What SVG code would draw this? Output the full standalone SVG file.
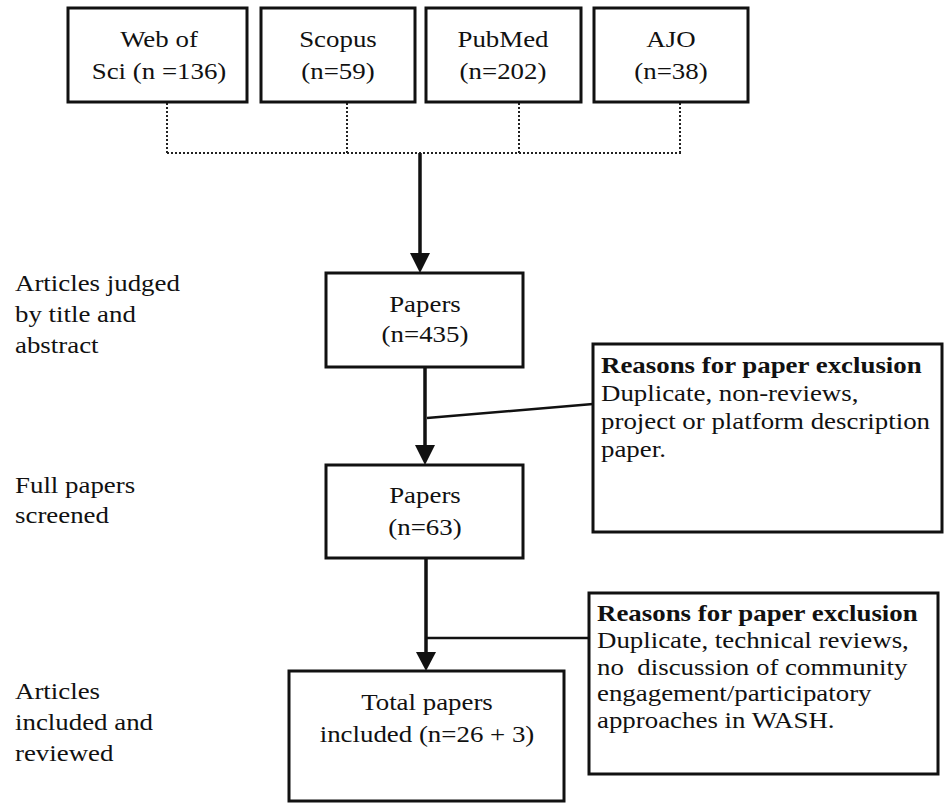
<svg xmlns="http://www.w3.org/2000/svg" width="944" height="809" viewBox="0 0 944 809">
<style>
.box{fill:#fff;stroke:#111;stroke-width:3}
.t{font-family:"Liberation Serif","Times New Roman",serif;font-size:24px;fill:#111}
.c{text-anchor:middle}
.b{font-weight:bold}
.dot{fill:none;stroke:#222;stroke-width:2;stroke-dasharray:2 2}
.ln{fill:none;stroke:#111;stroke-width:3.5}
.thin{fill:none;stroke:#111;stroke-width:2.5}
.head{fill:#111}
</style>
<rect width="944" height="809" fill="#fff"/>
<g id="connectors">
<path class="dot" d="M167 103V153M347 103V153M519 103V153M680 103V153M167 153H682"/>
<path class="ln" d="M420 153V256"/>
<polygon class="head" points="410,253 430,253 420,273"/>
<path class="ln" d="M425 367V448"/>
<polygon class="head" points="415,445 435,445 425,465"/>
<path class="thin" d="M427 418L593 404"/>
<path class="ln" d="M426 558V655"/>
<polygon class="head" points="416,652 436,652 426,671"/>
<path class="thin" d="M426 638H589"/>
</g>
<g id="labels">
<text class="t" transform="translate(15,291) scale(1.12 1)">Articles judged</text>
<text class="t" transform="translate(15,322) scale(1.12 1)">by title and</text>
<text class="t" transform="translate(15,353) scale(1.12 1)">abstract</text>
<text class="t" transform="translate(15,493) scale(1.12 1)">Full papers</text>
<text class="t" transform="translate(15,523) scale(1.12 1)">screened</text>
<text class="t" transform="translate(15,699) scale(1.12 1)">Articles</text>
<text class="t" transform="translate(15,730) scale(1.12 1)">included and</text>
<text class="t" transform="translate(15,761) scale(1.12 1)">reviewed</text>
</g>
<g id="web-of-sci">
<rect class="box" x="68" y="8" width="179" height="94"/>
<text class="t c" transform="translate(159,47) scale(1.12 1)">Web of</text>
<text class="t c" transform="translate(159,79) scale(1.12 1)">Sci (n =136)</text>
</g>
<g id="scopus">
<rect class="box" x="261" y="8" width="154" height="94"/>
<text class="t c" transform="translate(338,47) scale(1.12 1)">Scopus</text>
<text class="t c" transform="translate(338,79) scale(1.12 1)">(n=59)</text>
</g>
<g id="pubmed">
<rect class="box" x="426" y="8" width="155" height="94"/>
<text class="t c" transform="translate(503,47) scale(1.12 1)">PubMed</text>
<text class="t c" transform="translate(503,79) scale(1.12 1)">(n=202)</text>
</g>
<g id="ajo">
<rect class="box" x="594" y="8" width="154" height="94"/>
<text class="t c" transform="translate(671,47) scale(1.12 1)">AJO</text>
<text class="t c" transform="translate(671,79) scale(1.12 1)">(n=38)</text>
</g>
<g id="papers-435">
<rect class="box" x="326" y="273" width="197" height="94"/>
<text class="t c" transform="translate(425,312) scale(1.12 1)">Papers</text>
<text class="t c" transform="translate(425,342) scale(1.12 1)">(n=435)</text>
</g>
<g id="exclusion-1">
<rect class="box" x="593" y="344" width="349" height="188"/>
<text class="t b" transform="translate(601,373) scale(1.12 1)">Reasons for paper exclusion</text>
<text class="t" transform="translate(601,401) scale(1.12 1)">Duplicate, non-reviews,</text>
<text class="t" transform="translate(601,429) scale(1.12 1)">project or platform description</text>
<text class="t" transform="translate(601,457) scale(1.12 1)">paper.</text>
</g>
<g id="papers-63">
<rect class="box" x="326" y="465" width="197" height="93"/>
<text class="t c" transform="translate(425,503) scale(1.12 1)">Papers</text>
<text class="t c" transform="translate(425,535) scale(1.12 1)">(n=63)</text>
</g>
<g id="exclusion-2">
<rect class="box" x="589" y="593" width="349" height="181"/>
<text class="t b" transform="translate(597,621) scale(1.12 1)">Reasons for paper exclusion</text>
<text class="t" transform="translate(597,648) scale(1.12 1)">Duplicate, technical reviews,</text>
<text class="t" transform="translate(597,674.5) scale(1.12 1)" xml:space="preserve">no  discussion of community</text>
<text class="t" transform="translate(597,701) scale(1.12 1)">engagement/participatory</text>
<text class="t" transform="translate(597,728) scale(1.12 1)">approaches in WASH.</text>
</g>
<g id="total-included">
<rect class="box" x="289" y="671" width="275" height="130"/>
<text class="t c" transform="translate(427,710) scale(1.12 1)">Total papers</text>
<text class="t c" transform="translate(427,742) scale(1.12 1)">included (n=26 + 3)</text>
</g>
</svg>
